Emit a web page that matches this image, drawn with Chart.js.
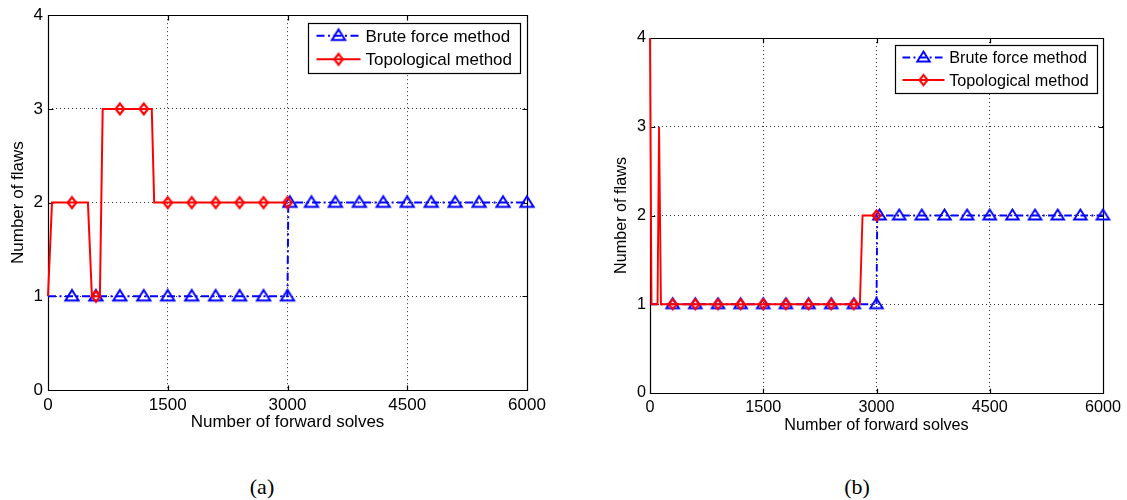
<!DOCTYPE html>
<html>
<head>
<meta charset="utf-8">
<script src="https://cdn.jsdelivr.net/npm/chart.js@4/dist/chart.umd.min.js"></script>
<style>
  html, body { margin: 0; padding: 0; background: #fff; }
  #wrap { position: relative; width: 1127px; height: 500px; overflow: hidden; }
  canvas { position: absolute; top: 0; }
  #chartA { left: 0; }
  #chartB { left: 602px; }
  .cap { position: absolute; top: 475px; line-height: 24px; font-family: "Liberation Serif", "DejaVu Serif", serif;
         font-size: 22px; color: #000; transform: translateX(-50%); white-space: nowrap; }
</style>
</head>
<body>
<div id="wrap">
  <canvas id="chartA" width="560" height="450"></canvas>
  <canvas id="chartB" width="525" height="450"></canvas>
  <div class="cap" style="left:262px">(a)</div>
  <div class="cap" style="left:857px">(b)</div>
</div>
<script>
// Axis ticks and labels
const xTicks = [0, 1500, 3000, 4500, 6000];
const yTicks = [0, 1, 2, 3, 4];
const xTitle = 'Number of forward solves';
const yTitle = 'Number of flaws';
const seriesNames = ['Brute force method', 'Topological method'];

// Panel (a): brute force method
const bruteLineXA = [0, 3000, 3010, 6000];
const bruteLineYA = [1, 1, 2, 2];
const bruteMarkXA = [300, 600, 900, 1200, 1500, 1800, 2100, 2400, 2700, 3000,
                     3030, 3300, 3600, 3900, 4200, 4500, 4800, 5100, 5400, 5700, 6000];
const bruteMarkYA = [1, 1, 1, 1, 1, 1, 1, 1, 1, 1,
                     2, 2, 2, 2, 2, 2, 2, 2, 2, 2, 2];
// Panel (a): topological method
const topoLineXA = [0, 50, 500, 550, 650, 685, 1300, 1330, 3000];
const topoLineYA = [1, 2, 2, 1, 1, 3, 3, 2, 2];
const topoMarkXA = [300, 600, 900, 1200, 1500, 1800, 2100, 2400, 2700, 3000];
const topoMarkYA = [2, 1, 3, 3, 2, 2, 2, 2, 2, 2];

// Panel (b): brute force method
const bruteLineXB = [0, 3000, 3010, 6000];
const bruteLineYB = [1, 1, 2, 2];
const bruteMarkXB = [300, 600, 900, 1200, 1500, 1800, 2100, 2400, 2700, 3000,
                     3040, 3300, 3600, 3900, 4200, 4500, 4800, 5100, 5400, 5700, 6000];
const bruteMarkYB = [1, 1, 1, 1, 1, 1, 1, 1, 1, 1,
                     2, 2, 2, 2, 2, 2, 2, 2, 2, 2, 2];
// Panel (b): topological method
const topoLineXB = [0, 20, 100, 120, 145, 2780, 2815, 3000];
const topoLineYB = [4, 1, 1, 3, 1, 1, 2, 2];
const topoMarkXB = [300, 600, 900, 1200, 1500, 1800, 2100, 2400, 2700, 3000];
const topoMarkYB = [1, 1, 1, 1, 1, 1, 1, 1, 1, 2];

const BLUE = '#0000ff';
const RED = '#ff0000';
const FONT_FAMILY = '"Liberation Sans", Arial, Helvetica, sans-serif';

const zip = (xs, ys) => xs.map((x, i) => ({ x, y: ys[i] }));

// Hollow triangle marker
function triangleMarker(s) {
  const n = Math.round(20 * s);
  const c = document.createElement('canvas');
  c.width = n; c.height = n;
  const g = c.getContext('2d');
  const cx = n / 2, cy = n / 2;
  g.strokeStyle = BLUE; g.lineWidth = 2 * s; g.lineJoin = 'miter';
  g.beginPath();
  g.moveTo(cx, cy - 6.3 * s);
  g.lineTo(cx + 6.6 * s, cy + 4.2 * s);
  g.lineTo(cx - 6.6 * s, cy + 4.2 * s);
  g.closePath();
  g.stroke();
  return c;
}

// Hollow diamond marker (slightly taller than wide)
function diamondMarker(s) {
  const n = Math.round(18 * s);
  const c = document.createElement('canvas');
  c.width = n; c.height = n;
  const g = c.getContext('2d');
  const cx = n / 2, cy = n / 2;
  g.strokeStyle = RED; g.lineWidth = 2.2 * s; g.lineJoin = 'miter';
  g.beginPath();
  g.moveTo(cx, cy - 5.4 * s);
  g.lineTo(cx + 4.2 * s, cy);
  g.lineTo(cx, cy + 5.4 * s);
  g.lineTo(cx - 4.2 * s, cy);
  g.closePath();
  g.stroke();
  return c;
}

// Axes box with inward tick marks
const boxPlugin = {
  id: 'axesBox',
  beforeDatasetsDraw(chart, args, opts) {
    const { ctx, chartArea: a, scales } = chart;
    const L = Math.round(a.left) + 0.5, R = Math.round(a.right) + 0.5;
    const T = Math.round(a.top) + 0.5, B = Math.round(a.bottom) + 0.5;
    const len = opts.tickLen;
    ctx.save();
    ctx.strokeStyle = '#000';
    ctx.lineWidth = 1.2;
    ctx.beginPath();
    ctx.rect(L, T, R - L, B - T);
    xTicks.forEach(v => {
      const px = Math.round(scales.x.getPixelForValue(v)) + 0.5;
      ctx.moveTo(px, B); ctx.lineTo(px, B - len);
      ctx.moveTo(px, T); ctx.lineTo(px, T + len);
    });
    yTicks.forEach(v => {
      const py = Math.round(scales.y.getPixelForValue(v)) + 0.5;
      ctx.moveTo(L, py); ctx.lineTo(L + len, py);
      ctx.moveTo(R, py); ctx.lineTo(R - len, py);
    });
    ctx.stroke();
    ctx.restore();
  }
};

// Boxed legend: line sample with marker, then the series name
const legendPlugin = {
  id: 'boxLegend',
  afterDraw(chart, args, opts) {
    const { ctx, chartArea: a } = chart;
    const s = opts.scale;
    const entries = opts.entries;
    ctx.save();
    ctx.font = `${opts.fontSize}px ${FONT_FAMILY}`;
    const textW = Math.max(...entries.map(e => ctx.measureText(e.text).width));
    const padL = 8.3 * s, sample = 44 * s, gap = 5 * s, padR = 8 * s;
    const w = padL + sample + gap + textW + padR;
    const h = 50 * s;
    const right = a.right - 7 * s;
    const top = a.top + 7.5 * s;
    const left = right - w;
    const bx = Math.round(left) + 0.5, by = Math.round(top) + 0.5;
    ctx.fillStyle = '#fff';
    ctx.fillRect(bx, by, Math.round(w), Math.round(h));
    ctx.strokeStyle = '#000';
    ctx.lineWidth = 1.2;
    ctx.strokeRect(bx, by, Math.round(w), Math.round(h));
    entries.forEach((e, i) => {
      const y = top + (i === 0 ? 13 : 36.6) * s;
      const x0 = left + padL;
      ctx.save();
      ctx.strokeStyle = e.color;
      ctx.lineWidth = 2 * s;
      ctx.setLineDash(e.dash);
      ctx.beginPath();
      ctx.moveTo(x0, y); ctx.lineTo(x0 + sample, y);
      ctx.stroke();
      ctx.restore();
      const m = e.marker;
      ctx.drawImage(m, x0 + sample / 2 - m.width / 2, y - m.height / 2);
      ctx.fillStyle = '#000';
      ctx.textAlign = 'left';
      ctx.textBaseline = 'middle';
      ctx.fillText(e.text, x0 + sample + gap, y + 1.2 * s);
    });
    ctx.restore();
  }
};

function makeChart(id, cfg) {
  const s = cfg.scale;
  const font = { family: FONT_FAMILY, size: cfg.fontSize, lineHeight: 1.2 };
  const tri = triangleMarker(s);
  const dia = diamondMarker(s);
  const blueDash = [8 * s, 3.5 * s, 2 * s, 3.5 * s];

  const datasets = [
    { // topological method, line
      data: zip(cfg.topoLineX, cfg.topoLineY), showLine: true, borderColor: RED,
      borderWidth: 2 * s, pointRadius: 0, tension: 0, clip: false
    },
    { // topological method, markers
      data: zip(cfg.topoMarkX, cfg.topoMarkY), showLine: false,
      pointStyle: dia, pointRadius: 6, clip: false
    },
    { // brute force method, line
      data: zip(cfg.bruteLineX, cfg.bruteLineY), showLine: true, borderColor: BLUE,
      borderWidth: 2 * s, borderDash: blueDash, pointRadius: 0, tension: 0, clip: false
    },
    { // brute force method, markers
      data: zip(cfg.bruteMarkX, cfg.bruteMarkY), showLine: false,
      pointStyle: tri, pointRadius: 6, clip: false
    }
  ];

  const axisCommon = {
    type: 'linear',
    grid: { color: '#333', lineWidth: 1, drawTicks: false },
    border: { display: false, dash: [1, 3] }
  };

  return new Chart(document.getElementById(id), {
    type: 'scatter',
    data: { datasets },
    options: {
      responsive: false,
      animation: false,
      events: [],
      layout: { padding: { top: cfg.padTop, right: cfg.padRight, left: 0, bottom: 0 } },
      plugins: {
        legend: { display: false },
        tooltip: { enabled: false },
        axesBox: { tickLen: 5 * s },
        boxLegend: {
          scale: s, fontSize: cfg.fontSize,
          entries: [
            { text: seriesNames[0], color: BLUE, dash: blueDash, marker: tri },
            { text: seriesNames[1], color: RED, dash: [], marker: dia }
          ]
        }
      },
      scales: {
        x: Object.assign({}, axisCommon, {
          min: xTicks[0], max: xTicks[xTicks.length - 1],
          afterBuildTicks: sc => { sc.ticks = xTicks.map(v => ({ value: v })); },
          ticks: { font, color: '#000', padding: cfg.xTickPad, maxRotation: 0, autoSkip: false,
                   callback: v => String(v) },
          title: { display: true, text: xTitle, font, color: '#000',
                   padding: { top: 0, bottom: cfg.xTitlePad } },
          afterFit: sc => { sc.height = cfg.xAxisH; }
        }),
        y: Object.assign({}, axisCommon, {
          min: yTicks[0], max: yTicks[yTicks.length - 1],
          afterBuildTicks: sc => { sc.ticks = yTicks.map(v => ({ value: v })); },
          ticks: { font, color: '#000', padding: cfg.yTickPad, callback: v => String(v) },
          title: { display: true, text: yTitle, font, color: '#000',
                   padding: { top: cfg.yTitlePad, bottom: 0 } },
          afterFit: sc => { sc.width = cfg.yAxisW; }
        })
      }
    },
    plugins: [boxPlugin, legendPlugin]
  });
}

makeChart('chartA', {
  scale: 1, fontSize: 17,
  padTop: 15, padRight: 33, xAxisH: 60, yAxisW: 48,
  xTickPad: 5, xTitlePad: 17, yTickPad: 5, yTitlePad: 8,
  bruteLineX: bruteLineXA, bruteLineY: bruteLineYA,
  bruteMarkX: bruteMarkXA, bruteMarkY: bruteMarkYA,
  topoLineX: topoLineXA, topoLineY: topoLineYA,
  topoMarkX: topoMarkXA, topoMarkY: topoMarkYA
});

makeChart('chartB', {
  scale: 0.953, fontSize: 16.2,
  padTop: 38, padRight: 24, xAxisH: 57, yAxisW: 48,
  xTickPad: 4.5, xTitlePad: 15, yTickPad: 4, yTitlePad: 10,
  bruteLineX: bruteLineXB, bruteLineY: bruteLineYB,
  bruteMarkX: bruteMarkXB, bruteMarkY: bruteMarkYB,
  topoLineX: topoLineXB, topoLineY: topoLineYB,
  topoMarkX: topoMarkXB, topoMarkY: topoMarkYB
});
</script>
</body>
</html>
